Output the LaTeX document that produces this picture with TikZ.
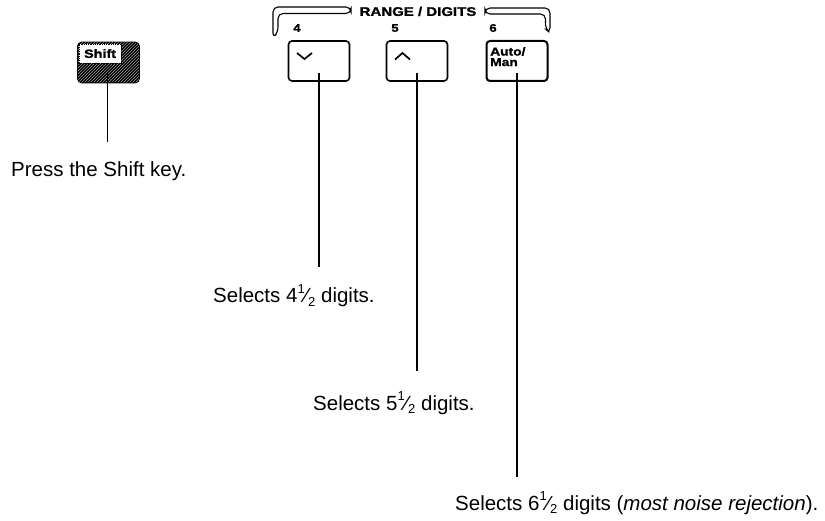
\documentclass[tikz,border=0pt]{standalone}
\usepackage{fontspec}
\setmainfont{Liberation Sans}
\newfontfamily\keyfont{Liberation Sans}[FakeStretch=1.2,FakeBold=1.5]
\usetikzlibrary{patterns,calc}
\newcommand\halfsym{\raisebox{0.45em}{\fontsize{13}{12}\selectfont 1}{⁄}\raisebox{-0.15em}{\fontsize{13}{12}\selectfont 2}}
\tikzset{
  keybox/.style={draw, line width=1.6pt, rounded corners=3.5pt, minimum width=61pt, minimum height=40pt, inner sep=0pt},
  shiftkey/.style={keybox, fill=black, postaction={pattern=north east lines, pattern color=gray!80}},
  keylbl/.style={font=\keyfont\bfseries\fontsize{11}{11}\selectfont, inner sep=0pt},
  desc/.style={font=\fontsize{20.5}{24}\selectfont, inner sep=0pt, anchor=base west},
  conn/.style={line width=1.6pt},
  chev/.style={line width=1.7pt},
  brk/.style={draw, line width=1.1pt, fill=white, rounded corners=5pt}
}
\begin{document}
\begin{tikzpicture}[x=1pt,y=-1pt]
\useasboundingbox (0,0) rectangle (825,521);
% keys
\node[shiftkey] (ks) at (108.5,62.5) {};
\node[draw, densely dotted, fill=white, line width=0.8pt, anchor=north west, minimum width=42pt, minimum height=19pt, inner sep=0pt, font=\keyfont\bfseries\fontsize{12}{12}\selectfont] (sl) at ($(ks.north west)+(1.5,2)$) {Shift};
\node[keybox] (k4) at (319,61) {};
\node[keybox] (k5) at (417,61) {};
\node[keybox, line width=2pt] (k6) at (517,61) {};
% chevrons
\draw[chev] (297,53) -- (304.5,59) -- (312,53);
\draw[chev] (395,59.5) -- (402.5,53) -- (410,59.5);
\node[keylbl, anchor=north west, align=left, font=\keyfont\bfseries\fontsize{11.5}{10.5}\selectfont] (am) at (490,47) {Auto/\\Man};
% labels above keys
\node[keylbl] (l4) at (297,28) {4};
\node[keylbl] (l5) at (395,28) {5};
\node[keylbl] (l6) at (493,28) {6};
% bracket
\draw[brk] (273,38) -- (273,7) -- (351,7) -- (351,13.5) -- (278,13.5) -- (278,32) -- cycle;
\draw[brk] (485,8) -- (550,8) -- (550,33) -- (545.5,29) -- (545.5,14) -- (485,14) -- cycle;
\node[keylbl, font=\keyfont\bfseries\fontsize{12.5}{13}\selectfont] (rd) at (418,11.5) {RANGE / DIGITS};
% descriptions
\node[desc] (tp) at (11,177) {Press the Shift key.};
\node[desc] (t4) at (213,303) {Selects 4\halfsym{} digits.};
\node[desc] (t5) at (313,410) {Selects 5\halfsym{} digits.};
\node[desc] (t6) at (455,510) {Selects 6\halfsym{} digits (\textit{most noise rejection}).};
% connector ends
\coordinate (es) at (107.5,142);
\coordinate (e4) at (319,267);
\coordinate (e5) at (417,371);
\coordinate (e6) at (517,477);
\draw[conn] ([yshift=10pt]ks.south -| es) -- (es);
\draw[conn] ([yshift=9pt]k4.south) -- (e4);
\draw[conn] ([yshift=9pt]k5.south) -- (e5);
\draw[conn] ([yshift=9pt]k6.south) -- (e6);
\end{tikzpicture}
\end{document}
